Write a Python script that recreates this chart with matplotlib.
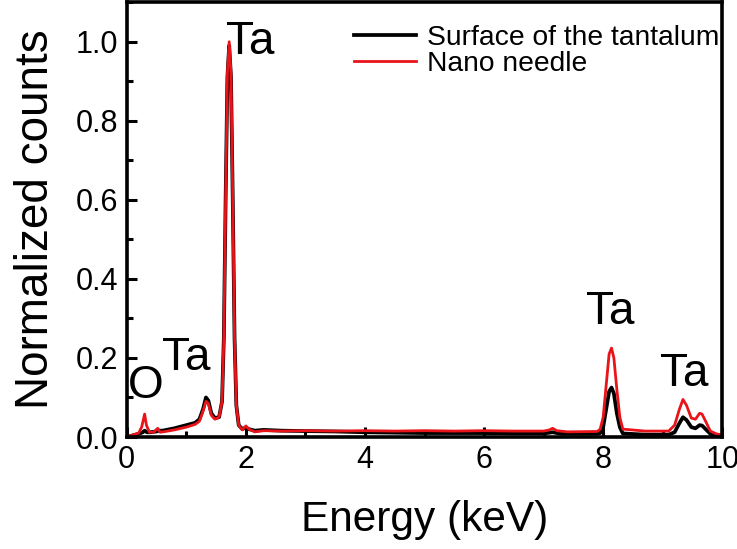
import matplotlib
matplotlib.use("Agg")
import matplotlib.pyplot as plt
from matplotlib.ticker import MultipleLocator

plt.rcParams['font.family'] = ['Liberation Sans', 'DejaVu Sans']

# energy (keV) / normalized counts
energy_needle = [0.0, 0.1, 0.2, 0.25, 0.3, 0.33, 0.38, 0.45, 0.52, 0.56, 0.65, 0.8,
                 1.0, 1.15, 1.22, 1.28, 1.33, 1.37, 1.42, 1.48, 1.55, 1.6, 1.63,
                 1.66, 1.69, 1.72, 1.75, 1.78, 1.81, 1.84, 1.88, 1.94, 2.0, 2.05, 2.15,
                 2.3, 2.6, 3.0, 3.5, 4.0, 4.5, 5.0, 5.5, 6.0, 6.5, 7.0, 7.1, 7.15,
                 7.22, 7.4, 7.9, 7.95, 8.0, 8.05, 8.1, 8.14, 8.18, 8.23, 8.28, 8.33,
                 8.7, 9.1, 9.2, 9.28, 9.34, 9.4, 9.48, 9.55, 9.62, 9.66, 9.72,
                 9.8, 9.9, 10.0]
counts_needle = [0.0, 0.005, 0.01, 0.025, 0.058, 0.03, 0.012, 0.012, 0.022, 0.012, 0.014, 0.018,
                 0.025, 0.032, 0.04, 0.065, 0.09, 0.085, 0.055, 0.045, 0.05, 0.09, 0.25,
                 0.6, 0.92, 1.0, 0.92, 0.6, 0.25, 0.08, 0.03, 0.018, 0.028, 0.02, 0.013,
                 0.016, 0.015, 0.016, 0.015, 0.016, 0.015, 0.016, 0.015, 0.016, 0.015, 0.015, 0.018, 0.022,
                 0.016, 0.013, 0.014, 0.02, 0.05, 0.13, 0.21, 0.225, 0.2, 0.12, 0.05, 0.02,
                 0.015, 0.015, 0.03, 0.07, 0.095, 0.08, 0.048, 0.045, 0.06, 0.058, 0.04,
                 0.015, 0.008, 0.005]

energy_surface = [0.0, 0.1, 0.2, 0.27, 0.3, 0.34, 0.4, 0.5, 0.54, 0.6, 0.8, 1.0,
                  1.15, 1.22, 1.28, 1.33, 1.37, 1.42, 1.48, 1.55, 1.6, 1.63, 1.66,
                  1.69, 1.72, 1.75, 1.78, 1.81, 1.84, 1.88, 1.94, 2.0, 2.05, 2.15, 2.3,
                  2.6, 3.0, 3.5, 4.0, 4.5, 5.0, 5.5, 6.0, 6.5, 7.0, 7.15, 7.3,
                  7.9, 7.95, 8.0, 8.05, 8.1, 8.14, 8.18, 8.23, 8.28, 8.33, 8.7, 9.1,
                  9.2, 9.28, 9.34, 9.4, 9.48, 9.55, 9.62, 9.66, 9.72, 9.8, 9.9, 10.0]
counts_surface = [0.0, 0.004, 0.008, 0.012, 0.016, 0.012, 0.012, 0.014, 0.016, 0.016, 0.022, 0.03,
                  0.036, 0.045, 0.07, 0.1, 0.092, 0.06, 0.048, 0.05, 0.09, 0.25, 0.6,
                  0.91, 0.99, 0.91, 0.6, 0.25, 0.08, 0.03, 0.02, 0.024, 0.02, 0.016, 0.018,
                  0.016, 0.015, 0.014, 0.012, 0.011, 0.01, 0.01, 0.01, 0.009, 0.009, 0.012, 0.008,
                  0.008, 0.01, 0.025, 0.07, 0.115, 0.125, 0.11, 0.06, 0.025, 0.009, 0.006, 0.006,
                  0.012, 0.035, 0.05, 0.043, 0.025, 0.022, 0.03, 0.029, 0.02, 0.008, 0.004, 0.003]

peak_labels = ['O', 'Ta', 'Ta', 'Ta', 'Ta']
peak_label_x = [0.32, 1.0, 2.07, 8.12, 9.36]
peak_label_y = [0.13, 0.2, 1.0, 0.315, 0.16]

fig = plt.figure(figsize=(7.37, 5.49), dpi=100)
ax = fig.add_axes([0.172, 0.204, 0.808, 0.792])

ax.plot(energy_surface, counts_surface, color='black', lw=2.7, label='Surface of the tantalum')
ax.plot(energy_needle, counts_needle, color='#e8141a', lw=2.0, label='Nano needle')

for txt, x, y in zip(peak_labels, peak_label_x, peak_label_y):
    ax.text(x, y, txt, fontsize=33, ha='center', va='center')

ax.set_xlim(0, 10)
ax.set_ylim(0, 1.1)
ax.xaxis.set_major_locator(MultipleLocator(2))
ax.xaxis.set_minor_locator(MultipleLocator(1))
ax.yaxis.set_major_locator(MultipleLocator(0.2))
ax.yaxis.set_minor_locator(MultipleLocator(0.1))
ax.yaxis.set_major_formatter(plt.FormatStrFormatter('%.1f'))
ax.tick_params(which='major', direction='in', length=7, width=2.2, labelsize=22, pad=6)
ax.tick_params(which='minor', direction='in', length=4, width=2.2)
for s in ax.spines.values():
    s.set_linewidth(2.6)

ax.set_xlabel('Energy (keV)', fontsize=30.5, labelpad=18)
ax.set_ylabel('Normalized counts', fontsize=33, labelpad=13)

ax.legend(loc='upper right', bbox_to_anchor=(1.0, 0.955), frameon=False, fontsize=20.3,
          handlelength=2.2, handletextpad=0.4, labelspacing=0.0, borderpad=0.1,
          borderaxespad=0.0)

fig.savefig('out.png', dpi=100)
